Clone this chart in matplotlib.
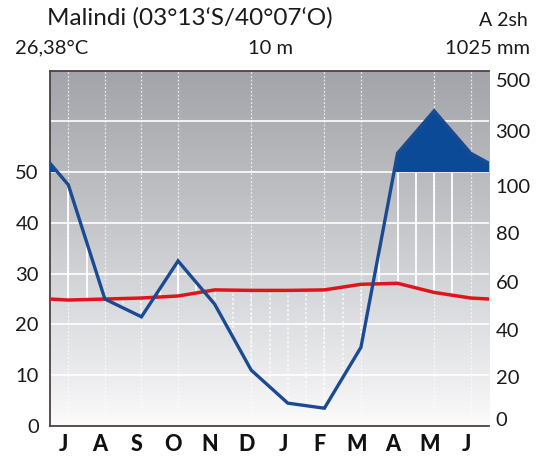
import matplotlib.pyplot as plt
import numpy as np
from matplotlib.colors import LinearSegmentedColormap
import matplotlib.transforms as mtransforms

plt.rcParams['font.family'] = ['Lato', 'DejaVu Sans']

# month labels (July .. June) and values
months = ['J', 'A', 'S', 'O', 'N', 'D', 'J', 'F', 'M', 'A', 'M', 'J']
temp = [24.8, 25.0, 25.2, 25.6, 26.8, 26.7, 26.7, 26.8, 27.9, 28.1, 26.3, 25.2]   # °C
prec = [95, 50, 43, 65, 48, 22, 9, 7, 31, 174, 341, 174]                          # mm
left_ticks = [0, 10, 20, 30, 40, 50]
right_labels = ['0', '20', '40', '60', '80', '100', '300', '500']
right_label_pos = [1.0, 9.3, 18.7, 28.1, 37.8, 47.0, 57.7, 67.8]
dotted_months = [0, 1, 2, 3, 5, 7, 8, 10, 11]

def to_plot(p):
    # walter-lieth scale: 20 mm = 10°C up to 100 mm, then 200 mm = 10°C
    p = np.asarray(p, dtype=float)
    return np.where(p <= 100, p / 2.0, 50 + (p - 100) / 20.0)

x = np.arange(12)
# lines run edge to edge, edge value = mean of first and last month
xe = np.concatenate([[-0.5], x, [11.5]])
te = np.concatenate([[(temp[0] + temp[-1]) / 2], temp, [(temp[0] + temp[-1]) / 2]])
pe_mm = np.concatenate([[(prec[0] + prec[-1]) / 2], prec, [(prec[0] + prec[-1]) / 2]])
pe = to_plot(pe_mm)

fig = plt.figure(figsize=(5.48, 4.61), dpi=100)
ax = fig.add_axes([50 / 548, 35 / 461, 439 / 548, 355.5 / 461])
ax.set_xlim(-0.5, 11.5)
ax.set_ylim(0, 70)

# gray gradient background
cmap = LinearSegmentedColormap.from_list('bg', [(0.0, '#fcfcfc'), (0.12, '#eeeef0'),
                                                (0.4, '#d3d5d8'), (0.7, '#b9bbbf'),
                                                (1.0, '#a2a4a9')])
grad = np.linspace(0, 1, 256).reshape(-1, 1)
ax.imshow(grad, cmap=cmap, origin='lower', extent=[-0.5, 11.5, 0, 70],
          aspect='auto', zorder=0)

# horizontal white grid
for g in [10, 20, 30, 40, 50, 60]:
    ax.axhline(g, color='white', lw=1.2, zorder=1)
# dotted month lines
for m in dotted_months:
    ax.axvline(m, color='white', lw=0.9, ls=(0, (1.5, 1.5)), alpha=0.75, zorder=1)

# hatching: humid solid, arid dotted
xs = np.arange(0, 10.51, 0.5)
ts = np.interp(xs, xe, te)
ps = np.interp(xs, xe, pe)
for xi, ti, pi in zip(xs, ts, ps):
    if pi > ti:
        ax.plot([xi, xi], [ti, min(pi, 50)], color='white', lw=1.3, zorder=2)
    else:
        ax.plot([xi, xi], [pi, ti], color='white', lw=1.1, ls=(0, (1.5, 1.5)),
                alpha=0.85, zorder=2)

# filled area above 100 mm
ax.fill_between(xe, 50, pe, where=pe >= 50, interpolate=True, color='#0a4a97',
                lw=0, zorder=3)

ax.plot(xe, te, color='#e0141c', lw=2.5, zorder=4, solid_capstyle='butt')
ax.plot(xe, pe, color='#1a4b92', lw=2.4, zorder=5, solid_joinstyle='miter')

# spines and ticks
for s in ['left', 'bottom', 'top']:
    ax.spines[s].set_color('#4e4141')
    ax.spines[s].set_linewidth(1.3)
ax.spines['right'].set_visible(False)
ax.set_yticks(left_ticks)
ax.set_yticklabels([str(v) for v in left_ticks], fontsize=14.5, color='#1a1a1a')
ax.tick_params(axis='y', length=0, pad=8)
ax.set_xticks(x - 0.13)
ax.set_xticklabels(months, fontsize=15.5, fontweight='black', color='#111111')
ax.tick_params(axis='x', length=0, pad=6)

trans = mtransforms.blended_transform_factory(ax.transAxes, ax.transData)
for lab, pos in zip(right_labels, right_label_pos):
    ax.text(1.015, pos, lab, transform=trans, fontsize=14.5, color='#1a1a1a',
            ha='left', va='center')

# header
fig.text(47 / 548, 1 - 18 / 461, 'Malindi (03°13‘S/40°07‘O)', fontsize=17.5,
         color='#1a1a1a', ha='left', va='center')
fig.text(528 / 548, 1 - 20 / 461, 'A 2sh', fontsize=14, color='#1a1a1a',
         ha='right', va='center')
fig.text(15 / 548, 1 - 48 / 461, '26,38°C', fontsize=14.5, color='#1a1a1a',
         ha='left', va='center')
fig.text(271 / 548, 1 - 48 / 461, '10 m', fontsize=14.5, color='#1a1a1a',
         ha='center', va='center')
fig.text(530 / 548, 1 - 48 / 461, '1025 mm', fontsize=14.5, color='#1a1a1a',
         ha='right', va='center')

fig.savefig('out.png', dpi=100)
